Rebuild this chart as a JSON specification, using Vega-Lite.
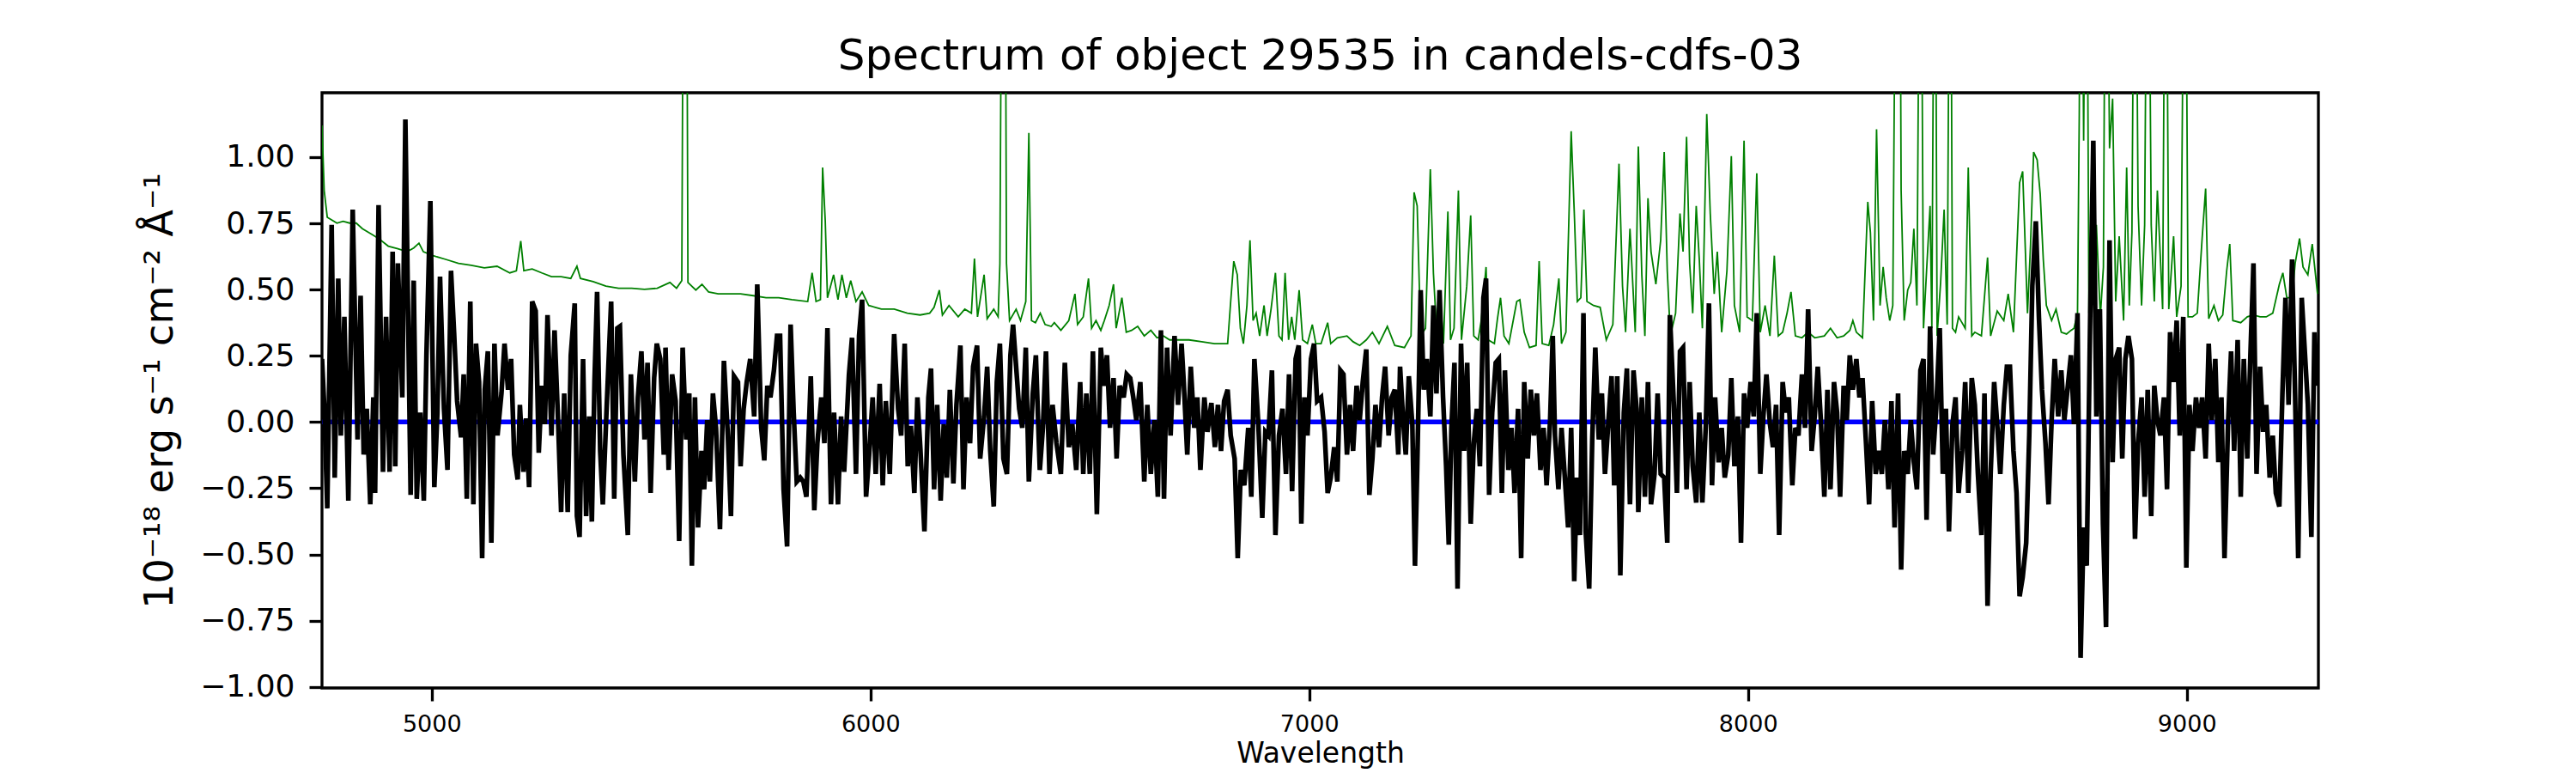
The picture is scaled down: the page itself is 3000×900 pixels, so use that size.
{
  "$schema": "https://vega.github.io/schema/vega-lite/v6.json",
  "width": 2325,
  "height": 693,
  "autosize": "none",
  "padding": {"left": 375, "top": 108, "right": 300, "bottom": 99},
  "background": "white",
  "title": {
    "text": "Spectrum of object 29535 in candels-cdfs-03",
    "font": "DejaVu Sans",
    "fontSize": 50,
    "fontWeight": "normal",
    "color": "black",
    "anchor": "middle",
    "baseline": "alphabetic",
    "offset": 25,
    "dy": 48
  },
  "datasets": {
    "spectrum": [
      {"wave":4750,"flux":0.238},{"wave":4755,"flux":0.065},{"wave":4762,"flux":-0.326},{"wave":4772,"flux":0.744},{"wave":4779,"flux":-0.21},{"wave":4787,"flux":0.542},{"wave":4793,"flux":-0.051},{"wave":4801,"flux":0.397},{"wave":4810,"flux":-0.297},{"wave":4820,"flux":0.802},
      {"wave":4831,"flux":-0.066},{"wave":4838,"flux":0.477},{"wave":4845,"flux":-0.123},{"wave":4852,"flux":0.05},{"wave":4860,"flux":-0.311},{"wave":4867,"flux":0.093},{"wave":4871,"flux":-0.268},{"wave":4879,"flux":0.819},{"wave":4889,"flux":-0.188},{"wave":4896,"flux":0.397},
      {"wave":4904,"flux":-0.188},{"wave":4911,"flux":0.643},{"wave":4917,"flux":-0.167},{"wave":4923,"flux":0.599},{"wave":4933,"flux":0.093},{"wave":4940,"flux":1.142},{"wave":4952,"flux":-0.275},{"wave":4959,"flux":0.534},{"wave":4966,"flux":-0.29},{"wave":4974,"flux":0.036},
      {"wave":4982,"flux":-0.297},{"wave":4988,"flux":0.252},{"wave":4997,"flux":0.834},{"wave":5006,"flux":-0.246},{"wave":5013,"flux":0.036},{"wave":5019,"flux":0.549},{"wave":5028,"flux":0.05},{"wave":5036,"flux":-0.181},{"wave":5044,"flux":0.571},{"wave":5051,"flux":0.339},
      {"wave":5058,"flux":0.079},{"wave":5067,"flux":-0.058},{"wave":5073,"flux":0.18},{"wave":5080,"flux":-0.29},{"wave":5088,"flux":0.455},{"wave":5095,"flux":-0.311},{"wave":5101,"flux":0.296},{"wave":5108,"flux":0.151},{"wave":5115,"flux":-0.514},{"wave":5121,"flux":0.122},
      {"wave":5128,"flux":0.267},{"wave":5136,"flux":-0.456},{"wave":5143,"flux":0.296},{"wave":5150,"flux":-0.051},{"wave":5159,"flux":0.108},{"wave":5166,"flux":0.296},{"wave":5174,"flux":0.122},{"wave":5181,"flux":0.238},{"wave":5188,"flux":-0.123},{"wave":5196,"flux":-0.217},
      {"wave":5201,"flux":0.065},{"wave":5209,"flux":-0.188},{"wave":5215,"flux":0.014},{"wave":5222,"flux":-0.246},{"wave":5229,"flux":0.455},{"wave":5237,"flux":0.419},{"wave":5244,"flux":-0.116},{"wave":5251,"flux":0.137},{"wave":5258,"flux":-0.008},{"wave":5264,"flux":0.404},
      {"wave":5273,"flux":-0.051},{"wave":5280,"flux":0.346},{"wave":5288,"flux":0.007},{"wave":5295,"flux":-0.34},{"wave":5302,"flux":0.108},{"wave":5310,"flux":-0.34},{"wave":5317,"flux":0.252},{"wave":5326,"flux":0.448},{"wave":5331,"flux":-0.355},{"wave":5337,"flux":-0.434},
      {"wave":5345,"flux":0.238},{"wave":5352,"flux":-0.355},{"wave":5359,"flux":0.021},{"wave":5365,"flux":-0.376},{"wave":5371,"flux":0.151},{"wave":5377,"flux":0.491},{"wave":5384,"flux":-0.109},{"wave":5390,"flux":-0.311},{"wave":5399,"flux":0.065},{"wave":5409,"flux":0.455},
      {"wave":5416,"flux":-0.29},{"wave":5423,"flux":0.354},{"wave":5429,"flux":0.361},{"wave":5437,"flux":-0.123},{"wave":5447,"flux":-0.427},{"wave":5454,"flux":0.18},{"wave":5463,"flux":-0.225},{"wave":5470,"flux":0.093},{"wave":5478,"flux":0.267},{"wave":5485,"flux":-0.066},
      {"wave":5492,"flux":0.224},{"wave":5499,"flux":-0.268},{"wave":5507,"flux":0.166},{"wave":5513,"flux":0.296},{"wave":5521,"flux":0.238},{"wave":5529,"flux":-0.123},{"wave":5533,"flux":0.281},{"wave":5540,"flux":-0.181},{"wave":5548,"flux":0.18},{"wave":5556,"flux":0.079},
      {"wave":5564,"flux":-0.449},{"wave":5572,"flux":0.281},{"wave":5580,"flux":-0.066},{"wave":5587,"flux":0.108},{"wave":5593,"flux":-0.543},{"wave":5600,"flux":0.093},{"wave":5607,"flux":-0.398},{"wave":5615,"flux":-0.109},{"wave":5621,"flux":-0.254},{"wave":5628,"flux":0.007},
      {"wave":5634,"flux":-0.225},{"wave":5641,"flux":0.108},{"wave":5648,"flux":-0.022},{"wave":5657,"flux":-0.405},{"wave":5666,"flux":0.231},{"wave":5675,"flux":-0.051},{"wave":5682,"flux":-0.355},{"wave":5689,"flux":0.173},{"wave":5698,"flux":0.151},{"wave":5704,"flux":-0.167},
      {"wave":5711,"flux":0.05},{"wave":5718,"flux":0.151},{"wave":5726,"flux":0.238},{"wave":5735,"flux":0.021},{"wave":5742,"flux":0.52},{"wave":5751,"flux":-0.022},{"wave":5758,"flux":-0.145},{"wave":5765,"flux":0.137},{"wave":5772,"flux":0.093},{"wave":5780,"flux":0.195},
      {"wave":5787,"flux":0.325},{"wave":5794,"flux":0.325},{"wave":5802,"flux":-0.254},{"wave":5810,"flux":-0.47},{"wave":5818,"flux":0.368},{"wave":5825,"flux":0.036},{"wave":5832,"flux":-0.225},{"wave":5840,"flux":-0.21},{"wave":5847,"flux":-0.225},{"wave":5854,"flux":-0.282},
      {"wave":5864,"flux":0.173},{"wave":5872,"flux":-0.333},{"wave":5879,"flux":-0.08},{"wave":5888,"flux":0.093},{"wave":5895,"flux":-0.08},{"wave":5902,"flux":0.354},{"wave":5910,"flux":-0.311},{"wave":5917,"flux":0.036},{"wave":5926,"flux":-0.311},{"wave":5933,"flux":0.021},
      {"wave":5940,"flux":-0.188},{"wave":5951,"flux":0.18},{"wave":5958,"flux":0.318},{"wave":5967,"flux":-0.196},{"wave":5974,"flux":0.325},{"wave":5981,"flux":0.462},{"wave":5990,"flux":-0.282},{"wave":5997,"flux":-0.123},{"wave":6005,"flux":0.093},{"wave":6012,"flux":-0.196},
      {"wave":6021,"flux":0.144},{"wave":6028,"flux":-0.239},{"wave":6035,"flux":0.079},{"wave":6044,"flux":-0.196},{"wave":6054,"flux":0.332},{"wave":6063,"flux":0.05},{"wave":6070,"flux":-0.051},{"wave":6078,"flux":0.296},{"wave":6085,"flux":-0.167},{"wave":6092,"flux":-0.015},
      {"wave":6100,"flux":-0.268},{"wave":6107,"flux":0.093},{"wave":6114,"flux":-0.109},{"wave":6123,"flux":-0.413},{"wave":6132,"flux":0.093},{"wave":6138,"flux":0.202},{"wave":6145,"flux":-0.254},{"wave":6152,"flux":0.065},{"wave":6160,"flux":-0.297},{"wave":6167,"flux":-0.008},
      {"wave":6174,"flux":-0.21},{"wave":6181,"flux":0.122},{"wave":6189,"flux":-0.232},{"wave":6196,"flux":0.065},{"wave":6205,"flux":0.289},{"wave":6212,"flux":-0.254},{"wave":6219,"flux":0.093},{"wave":6227,"flux":-0.08},{"wave":6234,"flux":0.209},{"wave":6243,"flux":0.289},
      {"wave":6250,"flux":-0.138},{"wave":6259,"flux":0.021},{"wave":6266,"flux":0.209},{"wave":6273,"flux":-0.109},{"wave":6281,"flux":-0.319},{"wave":6288,"flux":0.151},{"wave":6295,"flux":0.296},{"wave":6303,"flux":-0.138},{"wave":6311,"flux":-0.196},{"wave":6319,"flux":0.252},
      {"wave":6325,"flux":0.368},{"wave":6332,"flux":0.209},{"wave":6339,"flux":0.05},{"wave":6346,"flux":-0.022},{"wave":6354,"flux":0.281},{"wave":6361,"flux":-0.225},{"wave":6370,"flux":0.108},{"wave":6377,"flux":0.252},{"wave":6386,"flux":-0.181},{"wave":6393,"flux":-0.022},
      {"wave":6400,"flux":0.267},{"wave":6408,"flux":-0.196},{"wave":6415,"flux":0.065},{"wave":6424,"flux":-0.08},{"wave":6434,"flux":-0.196},{"wave":6443,"flux":0.224},{"wave":6452,"flux":-0.095},{"wave":6460,"flux":-0.008},{"wave":6469,"flux":-0.181},{"wave":6478,"flux":0.151},
      {"wave":6485,"flux":-0.196},{"wave":6492,"flux":0.108},{"wave":6500,"flux":-0.196},{"wave":6507,"flux":0.267},{"wave":6516,"flux":-0.348},{"wave":6525,"flux":0.281},{"wave":6532,"flux":0.137},{"wave":6539,"flux":0.252},{"wave":6546,"flux":-0.022},{"wave":6554,"flux":0.166},
      {"wave":6561,"flux":-0.138},{"wave":6568,"flux":0.137},{"wave":6577,"flux":0.093},{"wave":6584,"flux":0.18},{"wave":6592,"flux":0.166},{"wave":6599,"flux":0.093},{"wave":6606,"flux":0.007},{"wave":6615,"flux":0.151},{"wave":6624,"flux":-0.225},{"wave":6631,"flux":0.065},
      {"wave":6639,"flux":-0.196},{"wave":6647,"flux":0.007},{"wave":6655,"flux":-0.282},{"wave":6662,"flux":0.346},{"wave":6669,"flux":-0.29},{"wave":6676,"flux":0.281},{"wave":6684,"flux":-0.051},{"wave":6693,"flux":0.325},{"wave":6701,"flux":0.065},{"wave":6709,"flux":0.296},
      {"wave":6714,"flux":0.151},{"wave":6722,"flux":-0.123},{"wave":6730,"flux":0.209},{"wave":6738,"flux":-0.022},{"wave":6745,"flux":0.093},{"wave":6752,"flux":-0.181},{"wave":6761,"flux":0.093},{"wave":6768,"flux":-0.037},{"wave":6777,"flux":0.072},{"wave":6785,"flux":-0.095},
      {"wave":6792,"flux":0.065},{"wave":6799,"flux":-0.109},{"wave":6806,"flux":0.079},{"wave":6814,"flux":0.122},{"wave":6821,"flux":-0.051},{"wave":6830,"flux":-0.138},{"wave":6837,"flux":-0.514},{"wave":6844,"flux":-0.181},{"wave":6852,"flux":-0.239},{"wave":6861,"flux":-0.022},
      {"wave":6868,"flux":-0.282},{"wave":6875,"flux":0.238},{"wave":6884,"flux":-0.008},{"wave":6893,"flux":-0.362},{"wave":6900,"flux":-0.037},{"wave":6907,"flux":-0.051},{"wave":6915,"flux":0.195},{"wave":6923,"flux":-0.427},{"wave":6931,"flux":-0.051},{"wave":6939,"flux":0.05},
      {"wave":6947,"flux":-0.196},{"wave":6954,"flux":0.18},{"wave":6961,"flux":-0.261},{"wave":6969,"flux":0.238},{"wave":6976,"flux":0.289},{"wave":6982,"flux":-0.384},{"wave":6989,"flux":0.093},{"wave":6996,"flux":-0.051},{"wave":7004,"flux":0.238},{"wave":7011,"flux":0.296},
      {"wave":7018,"flux":0.079},{"wave":7027,"flux":0.093},{"wave":7035,"flux":-0.037},{"wave":7042,"flux":-0.268},{"wave":7049,"flux":-0.21},{"wave":7057,"flux":-0.095},{"wave":7064,"flux":-0.225},{"wave":7071,"flux":0.195},{"wave":7078,"flux":0.18},{"wave":7086,"flux":-0.123},
      {"wave":7093,"flux":0.065},{"wave":7100,"flux":-0.109},{"wave":7108,"flux":0.137},{"wave":7115,"flux":0.007},{"wave":7122,"flux":0.151},{"wave":7130,"flux":0.274},{"wave":7137,"flux":-0.275},{"wave":7144,"flux":-0.138},{"wave":7151,"flux":0.065},{"wave":7159,"flux":-0.095},
      {"wave":7166,"flux":0.093},{"wave":7173,"flux":0.209},{"wave":7181,"flux":-0.051},{"wave":7188,"flux":0.093},{"wave":7195,"flux":0.122},{"wave":7203,"flux":-0.123},{"wave":7207,"flux":0.209},{"wave":7214,"flux":0.007},{"wave":7220,"flux":-0.123},{"wave":7227,"flux":0.173},
      {"wave":7235,"flux":-0.008},{"wave":7241,"flux":-0.543},{"wave":7246,"flux":-0.181},{"wave":7254,"flux":0.498},{"wave":7261,"flux":0.122},{"wave":7268,"flux":0.238},{"wave":7276,"flux":0.021},{"wave":7283,"flux":0.44},{"wave":7290,"flux":0.108},{"wave":7297,"flux":0.498},
      {"wave":7305,"flux":0.093},{"wave":7312,"flux":-0.167},{"wave":7318,"flux":-0.463},{"wave":7324,"flux":-0.022},{"wave":7331,"flux":0.224},{"wave":7338,"flux":-0.629},{"wave":7346,"flux":0.296},{"wave":7353,"flux":-0.109},{"wave":7360,"flux":0.224},{"wave":7368,"flux":-0.384},
      {"wave":7375,"flux":-0.08},{"wave":7382,"flux":0.05},{"wave":7389,"flux":-0.167},{"wave":7397,"flux":0.469},{"wave":7403,"flux":0.542},{"wave":7410,"flux":-0.275},{"wave":7417,"flux":0.036},{"wave":7425,"flux":0.224},{"wave":7432,"flux":0.238},{"wave":7439,"flux":-0.268},
      {"wave":7446,"flux":0.195},{"wave":7454,"flux":-0.181},{"wave":7461,"flux":-0.022},{"wave":7468,"flux":-0.268},{"wave":7476,"flux":0.05},{"wave":7483,"flux":-0.514},{"wave":7490,"flux":0.151},{"wave":7498,"flux":-0.138},{"wave":7505,"flux":0.122},{"wave":7512,"flux":-0.051},
      {"wave":7519,"flux":0.108},{"wave":7527,"flux":-0.181},{"wave":7534,"flux":-0.022},{"wave":7541,"flux":-0.239},{"wave":7549,"flux":0.007},{"wave":7555,"flux":0.325},{"wave":7560,"flux":-0.051},{"wave":7568,"flux":-0.254},{"wave":7575,"flux":-0.022},{"wave":7582,"flux":-0.196},
      {"wave":7590,"flux":-0.398},{"wave":7597,"flux":-0.022},{"wave":7604,"flux":-0.601},{"wave":7610,"flux":-0.21},{"wave":7617,"flux":-0.427},{"wave":7625,"flux":0.411},{"wave":7630,"flux":-0.413},{"wave":7638,"flux":-0.629},{"wave":7645,"flux":-0.066},{"wave":7652,"flux":0.281},
      {"wave":7660,"flux":-0.066},{"wave":7667,"flux":0.108},{"wave":7674,"flux":-0.196},{"wave":7682,"flux":0.007},{"wave":7689,"flux":0.173},{"wave":7695,"flux":-0.239},{"wave":7702,"flux":0.173},{"wave":7709,"flux":-0.579},{"wave":7717,"flux":0.036},{"wave":7724,"flux":0.202},
      {"wave":7731,"flux":-0.311},{"wave":7739,"flux":0.195},{"wave":7746,"flux":0.05},{"wave":7750,"flux":-0.34},{"wave":7758,"flux":0.093},{"wave":7765,"flux":-0.282},{"wave":7772,"flux":0.151},{"wave":7779,"flux":-0.311},{"wave":7787,"flux":-0.196},{"wave":7794,"flux":0.108},
      {"wave":7801,"flux":-0.196},{"wave":7809,"flux":-0.21},{"wave":7816,"flux":-0.456},{"wave":7822,"flux":0.404},{"wave":7831,"flux":0.065},{"wave":7838,"flux":-0.268},{"wave":7845,"flux":0.267},{"wave":7852,"flux":0.281},{"wave":7860,"flux":-0.254},{"wave":7867,"flux":0.151},
      {"wave":7874,"flux":-0.167},{"wave":7882,"flux":-0.304},{"wave":7889,"flux":0.036},{"wave":7896,"flux":-0.304},{"wave":7904,"flux":-0.008},{"wave":7911,"flux":0.448},{"wave":7918,"flux":-0.239},{"wave":7925,"flux":0.093},{"wave":7933,"flux":-0.152},{"wave":7940,"flux":-0.022},
      {"wave":7947,"flux":-0.21},{"wave":7955,"flux":-0.123},{"wave":7962,"flux":0.166},{"wave":7969,"flux":-0.167},{"wave":7977,"flux":0.021},{"wave":7984,"flux":-0.456},{"wave":7991,"flux":0.108},{"wave":7998,"flux":-0.022},{"wave":8006,"flux":0.151},{"wave":8013,"flux":0.021},
      {"wave":8020,"flux":0.411},{"wave":8028,"flux":-0.196},{"wave":8035,"flux":0.021},{"wave":8042,"flux":0.18},{"wave":8050,"flux":-0.008},{"wave":8057,"flux":-0.095},{"wave":8064,"flux":0.065},{"wave":8071,"flux":-0.427},{"wave":8079,"flux":0.151},{"wave":8086,"flux":0.036},
      {"wave":8093,"flux":0.093},{"wave":8101,"flux":-0.239},{"wave":8108,"flux":-0.022},{"wave":8115,"flux":-0.051},{"wave":8123,"flux":0.18},{"wave":8130,"flux":-0.022},{"wave":8137,"flux":0.426},{"wave":8145,"flux":-0.109},{"wave":8152,"flux":0.021},{"wave":8159,"flux":0.209},
      {"wave":8166,"flux":0.007},{"wave":8174,"flux":-0.282},{"wave":8181,"flux":0.122},{"wave":8188,"flux":-0.254},{"wave":8196,"flux":0.151},{"wave":8203,"flux":0.036},{"wave":8210,"flux":-0.282},{"wave":8218,"flux":0.137},{"wave":8225,"flux":0.007},{"wave":8232,"flux":0.252},
      {"wave":8239,"flux":0.122},{"wave":8247,"flux":0.238},{"wave":8254,"flux":0.093},{"wave":8261,"flux":0.166},{"wave":8269,"flux":-0.08},{"wave":8276,"flux":-0.311},{"wave":8283,"flux":0.079},{"wave":8291,"flux":-0.196},{"wave":8298,"flux":-0.109},{"wave":8305,"flux":-0.196},
      {"wave":8312,"flux":0.007},{"wave":8320,"flux":-0.254},{"wave":8327,"flux":0.079},{"wave":8334,"flux":-0.398},{"wave":8342,"flux":0.108},{"wave":8349,"flux":-0.557},{"wave":8356,"flux":-0.109},{"wave":8364,"flux":-0.196},{"wave":8371,"flux":0.007},{"wave":8378,"flux":-0.152},
      {"wave":8385,"flux":-0.254},{"wave":8393,"flux":0.195},{"wave":8400,"flux":0.238},{"wave":8407,"flux":-0.369},{"wave":8415,"flux":0.361},{"wave":8422,"flux":-0.123},{"wave":8429,"flux":0.05},{"wave":8437,"flux":0.354},{"wave":8444,"flux":-0.196},{"wave":8451,"flux":0.05},
      {"wave":8458,"flux":-0.413},{"wave":8466,"flux":-0.008},{"wave":8473,"flux":0.093},{"wave":8480,"flux":-0.268},{"wave":8488,"flux":-0.109},{"wave":8495,"flux":0.151},{"wave":8502,"flux":-0.268},{"wave":8510,"flux":0.166},{"wave":8517,"flux":0.065},{"wave":8524,"flux":-0.196},
      {"wave":8532,"flux":-0.427},{"wave":8539,"flux":0.108},{"wave":8546,"flux":-0.694},{"wave":8553,"flux":-0.196},{"wave":8561,"flux":0.151},{"wave":8568,"flux":-0.008},{"wave":8575,"flux":-0.196},{"wave":8583,"flux":0.065},{"wave":8590,"flux":0.209},{"wave":8597,"flux":0.209},
      {"wave":8605,"flux":-0.109},{"wave":8612,"flux":-0.268},{"wave":8619,"flux":-0.658},{"wave":8626,"flux":-0.586},{"wave":8634,"flux":-0.456},{"wave":8641,"flux":-0.051},{"wave":8648,"flux":0.513},{"wave":8656,"flux":0.758},{"wave":8663,"flux":0.397},{"wave":8670,"flux":0.122},
      {"wave":8678,"flux":-0.08},{"wave":8685,"flux":-0.311},{"wave":8692,"flux":0.007},{"wave":8699,"flux":0.238},{"wave":8707,"flux":0.021},{"wave":8714,"flux":0.195},{"wave":8721,"flux":0.007},{"wave":8729,"flux":0.137},{"wave":8736,"flux":0.252},{"wave":8743,"flux":-0.008},
      {"wave":8751,"flux":0.411},{"wave":8758,"flux":-0.89},{"wave":8765,"flux":-0.398},{"wave":8772,"flux":-0.543},{"wave":8780,"flux":0.411},{"wave":8787,"flux":1.062},{"wave":8794,"flux":0.021},{"wave":8802,"flux":0.426},{"wave":8809,"flux":-0.384},{"wave":8816,"flux":-0.774},
      {"wave":8824,"flux":0.686},{"wave":8831,"flux":-0.152},{"wave":8838,"flux":0.238},{"wave":8846,"flux":0.281},{"wave":8853,"flux":-0.138},{"wave":8860,"flux":0.238},{"wave":8867,"flux":0.325},{"wave":8875,"flux":0.238},{"wave":8882,"flux":-0.441},{"wave":8889,"flux":-0.08},
      {"wave":8897,"flux":0.093},{"wave":8904,"flux":-0.282},{"wave":8911,"flux":0.122},{"wave":8919,"flux":-0.355},{"wave":8926,"flux":0.137},{"wave":8933,"flux":0.007},{"wave":8940,"flux":-0.051},{"wave":8948,"flux":0.093},{"wave":8955,"flux":-0.254},{"wave":8962,"flux":0.339},
      {"wave":8970,"flux":0.151},{"wave":8977,"flux":0.383},{"wave":8984,"flux":-0.051},{"wave":8992,"flux":0.397},{"wave":8999,"flux":-0.55},{"wave":9006,"flux":0.065},{"wave":9013,"flux":-0.109},{"wave":9021,"flux":0.093},{"wave":9028,"flux":-0.022},{"wave":9035,"flux":0.093},
      {"wave":9043,"flux":-0.138},{"wave":9050,"flux":0.296},{"wave":9057,"flux":0.007},{"wave":9065,"flux":0.238},{"wave":9072,"flux":-0.152},{"wave":9079,"flux":0.093},{"wave":9086,"flux":-0.514},{"wave":9094,"flux":-0.008},{"wave":9101,"flux":0.267},{"wave":9108,"flux":-0.109},
      {"wave":9116,"flux":0.31},{"wave":9123,"flux":-0.282},{"wave":9130,"flux":0.238},{"wave":9138,"flux":-0.138},{"wave":9145,"flux":0.252},{"wave":9152,"flux":0.599},{"wave":9159,"flux":-0.196},{"wave":9167,"flux":0.209},{"wave":9174,"flux":-0.037},{"wave":9181,"flux":0.065},
      {"wave":9189,"flux":-0.21},{"wave":9196,"flux":-0.051},{"wave":9203,"flux":-0.268},{"wave":9211,"flux":-0.319},{"wave":9218,"flux":0.108},{"wave":9225,"flux":0.469},{"wave":9232,"flux":0.065},{"wave":9240,"flux":0.614},{"wave":9247,"flux":0.093},{"wave":9254,"flux":-0.514},
      {"wave":9262,"flux":0.469},{"wave":9269,"flux":0.267},{"wave":9276,"flux":0.065},{"wave":9284,"flux":-0.434},{"wave":9291,"flux":0.339},{"wave":9298,"flux":0.137}
    ],
    "model": [
      {"wave":4750,"flux":0},{"wave":9300,"flux":0}
    ],
    "noise": [
      {"wave":4750,"flux":1.12},{"wave":4755,"flux":0.874},{"wave":4762,"flux":0.773},{"wave":4784,"flux":0.751},{"wave":4798,"flux":0.758},{"wave":4813,"flux":0.751},{"wave":4828,"flux":0.751},{"wave":4842,"flux":0.73},{"wave":4864,"flux":0.708},{"wave":4879,"flux":0.693},
      {"wave":4901,"flux":0.664},{"wave":4923,"flux":0.654},{"wave":4944,"flux":0.643},{"wave":4959,"flux":0.657},{"wave":4971,"flux":0.675},{"wave":4981,"flux":0.643},{"wave":5003,"flux":0.628},{"wave":5032,"flux":0.614},{"wave":5061,"flux":0.599},{"wave":5090,"flux":0.592},
      {"wave":5120,"flux":0.582},{"wave":5149,"flux":0.588},{"wave":5178,"flux":0.563},{"wave":5193,"flux":0.571},{"wave":5203,"flux":0.683},{"wave":5210,"flux":0.571},{"wave":5229,"flux":0.578},{"wave":5251,"flux":0.563},{"wave":5273,"flux":0.549},{"wave":5295,"flux":0.549},
      {"wave":5317,"flux":0.542},{"wave":5331,"flux":0.588},{"wave":5339,"flux":0.542},{"wave":5368,"flux":0.53},{"wave":5397,"flux":0.513},{"wave":5426,"flux":0.505},{"wave":5456,"flux":0.505},{"wave":5485,"flux":0.501},{"wave":5514,"flux":0.505},{"wave":5543,"flux":0.527},
      {"wave":5558,"flux":0.505},{"wave":5570,"flux":0.534},{"wave":5575,"flux":2.5},{"wave":5580,"flux":2.5},{"wave":5584,"flux":0.527},{"wave":5602,"flux":0.498},{"wave":5616,"flux":0.52},{"wave":5631,"flux":0.491},{"wave":5653,"flux":0.484},{"wave":5675,"flux":0.484},
      {"wave":5704,"flux":0.484},{"wave":5733,"flux":0.477},{"wave":5762,"flux":0.469},{"wave":5791,"flux":0.469},{"wave":5821,"flux":0.462},{"wave":5857,"flux":0.455},{"wave":5867,"flux":0.563},{"wave":5876,"flux":0.455},{"wave":5886,"flux":0.462},{"wave":5891,"flux":0.961},
      {"wave":5897,"flux":0.758},{"wave":5902,"flux":0.469},{"wave":5916,"flux":0.556},{"wave":5926,"flux":0.462},{"wave":5935,"flux":0.556},{"wave":5945,"flux":0.469},{"wave":5955,"flux":0.534},{"wave":5967,"flux":0.455},{"wave":5981,"flux":0.491},{"wave":5996,"flux":0.44},
      {"wave":6011,"flux":0.433},{"wave":6025,"flux":0.426},{"wave":6054,"flux":0.426},{"wave":6084,"flux":0.411},{"wave":6113,"flux":0.404},{"wave":6135,"flux":0.411},{"wave":6145,"flux":0.433},{"wave":6157,"flux":0.498},{"wave":6164,"flux":0.404},{"wave":6179,"flux":0.44},
      {"wave":6200,"flux":0.397},{"wave":6215,"flux":0.426},{"wave":6230,"flux":0.411},{"wave":6237,"flux":0.617},{"wave":6244,"flux":0.397},{"wave":6259,"flux":0.556},{"wave":6266,"flux":0.39},{"wave":6281,"flux":0.426},{"wave":6291,"flux":0.397},{"wave":6295,"flux":0.599},
      {"wave":6301,"flux":2.5},{"wave":6306,"flux":2.5},{"wave":6310,"flux":0.599},{"wave":6317,"flux":0.383},{"wave":6332,"flux":0.426},{"wave":6342,"flux":0.383},{"wave":6354,"flux":0.455},{"wave":6361,"flux":1.091},{"wave":6367,"flux":0.383},{"wave":6376,"flux":0.375},
      {"wave":6387,"flux":0.411},{"wave":6398,"flux":0.368},{"wave":6412,"flux":0.361},{"wave":6419,"flux":0.375},{"wave":6434,"flux":0.346},{"wave":6452,"flux":0.383},{"wave":6460,"flux":0.44},{"wave":6466,"flux":0.484},{"wave":6472,"flux":0.368},{"wave":6485,"flux":0.397},
      {"wave":6497,"flux":0.542},{"wave":6504,"flux":0.354},{"wave":6514,"flux":0.383},{"wave":6525,"flux":0.346},{"wave":6533,"flux":0.383},{"wave":6544,"flux":0.44},{"wave":6554,"flux":0.52},{"wave":6560,"flux":0.354},{"wave":6573,"flux":0.469},{"wave":6583,"flux":0.339},
      {"wave":6595,"flux":0.346},{"wave":6609,"flux":0.361},{"wave":6624,"flux":0.325},{"wave":6639,"flux":0.346},{"wave":6653,"flux":0.318},{"wave":6668,"flux":0.325},{"wave":6682,"flux":0.31},{"wave":6704,"flux":0.31},{"wave":6726,"flux":0.31},{"wave":6755,"flux":0.303},
      {"wave":6784,"flux":0.296},{"wave":6814,"flux":0.296},{"wave":6821,"flux":0.455},{"wave":6828,"flux":0.607},{"wave":6836,"flux":0.556},{"wave":6843,"flux":0.354},{"wave":6850,"flux":0.296},{"wave":6858,"flux":0.44},{"wave":6865,"flux":0.686},{"wave":6872,"flux":0.383},
      {"wave":6879,"flux":0.411},{"wave":6887,"flux":0.325},{"wave":6897,"flux":0.44},{"wave":6904,"flux":0.325},{"wave":6913,"flux":0.426},{"wave":6923,"flux":0.563},{"wave":6931,"flux":0.325},{"wave":6938,"flux":0.31},{"wave":6945,"flux":0.563},{"wave":6953,"flux":0.31},
      {"wave":6960,"flux":0.397},{"wave":6967,"flux":0.31},{"wave":6977,"flux":0.498},{"wave":6985,"flux":0.31},{"wave":6996,"flux":0.296},{"wave":7007,"flux":0.368},{"wave":7015,"flux":0.296},{"wave":7027,"flux":0.296},{"wave":7042,"flux":0.375},{"wave":7049,"flux":0.296},
      {"wave":7064,"flux":0.318},{"wave":7086,"flux":0.325},{"wave":7100,"flux":0.303},{"wave":7115,"flux":0.289},{"wave":7130,"flux":0.31},{"wave":7144,"flux":0.339},{"wave":7159,"flux":0.296},{"wave":7178,"flux":0.361},{"wave":7195,"flux":0.289},{"wave":7217,"flux":0.281},
      {"wave":7232,"flux":0.325},{"wave":7239,"flux":0.867},{"wave":7246,"flux":0.816},{"wave":7254,"flux":0.325},{"wave":7265,"flux":0.354},{"wave":7276,"flux":0.954},{"wave":7283,"flux":0.563},{"wave":7290,"flux":0.354},{"wave":7297,"flux":0.498},{"wave":7306,"flux":0.296},
      {"wave":7316,"flux":0.795},{"wave":7322,"flux":0.31},{"wave":7330,"flux":0.354},{"wave":7340,"flux":0.874},{"wave":7347,"flux":0.31},{"wave":7359,"flux":0.513},{"wave":7368,"flux":0.78},{"wave":7375,"flux":0.325},{"wave":7385,"flux":0.31},{"wave":7392,"flux":0.383},
      {"wave":7403,"flux":0.585},{"wave":7408,"flux":0.31},{"wave":7422,"flux":0.296},{"wave":7429,"flux":0.39},{"wave":7436,"flux":0.469},{"wave":7444,"flux":0.325},{"wave":7455,"flux":0.296},{"wave":7473,"flux":0.455},{"wave":7480,"flux":0.462},{"wave":7490,"flux":0.339},
      {"wave":7502,"flux":0.281},{"wave":7517,"flux":0.289},{"wave":7524,"flux":0.607},{"wave":7531,"flux":0.296},{"wave":7546,"flux":0.289},{"wave":7557,"flux":0.368},{"wave":7569,"flux":0.542},{"wave":7575,"flux":0.296},{"wave":7585,"flux":0.339},{"wave":7597,"flux":1.098},
      {"wave":7604,"flux":0.795},{"wave":7611,"flux":0.455},{"wave":7619,"flux":0.469},{"wave":7626,"flux":0.802},{"wave":7633,"flux":0.455},{"wave":7648,"flux":0.44},{"wave":7663,"flux":0.433},{"wave":7677,"flux":0.31},{"wave":7692,"flux":0.368},{"wave":7706,"flux":0.975},
      {"wave":7714,"flux":0.513},{"wave":7721,"flux":0.339},{"wave":7731,"flux":0.73},{"wave":7743,"flux":0.339},{"wave":7750,"flux":1.04},{"wave":7758,"flux":0.556},{"wave":7765,"flux":0.325},{"wave":7772,"flux":0.845},{"wave":7779,"flux":0.643},{"wave":7790,"flux":0.52},
      {"wave":7801,"flux":0.686},{"wave":7809,"flux":1.019},{"wave":7816,"flux":0.571},{"wave":7823,"flux":0.325},{"wave":7835,"flux":0.411},{"wave":7845,"flux":0.787},{"wave":7852,"flux":0.643},{"wave":7860,"flux":1.077},{"wave":7867,"flux":0.599},{"wave":7874,"flux":0.411},
      {"wave":7882,"flux":0.816},{"wave":7889,"flux":0.614},{"wave":7896,"flux":0.354},{"wave":7906,"flux":1.163},{"wave":7914,"flux":0.787},{"wave":7923,"flux":0.484},{"wave":7930,"flux":0.643},{"wave":7940,"flux":0.339},{"wave":7952,"flux":0.571},{"wave":7962,"flux":1.004},
      {"wave":7969,"flux":0.44},{"wave":7981,"flux":0.339},{"wave":7991,"flux":1.062},{"wave":7998,"flux":0.397},{"wave":8010,"flux":0.383},{"wave":8020,"flux":0.939},{"wave":8028,"flux":0.339},{"wave":8039,"flux":0.44},{"wave":8050,"flux":0.325},{"wave":8060,"flux":0.628},
      {"wave":8069,"flux":0.325},{"wave":8079,"flux":0.339},{"wave":8089,"flux":0.411},{"wave":8098,"flux":0.491},{"wave":8108,"flux":0.325},{"wave":8123,"flux":0.318},{"wave":8137,"flux":0.339},{"wave":8152,"flux":0.318},{"wave":8174,"flux":0.325},{"wave":8188,"flux":0.354},
      {"wave":8203,"flux":0.318},{"wave":8218,"flux":0.325},{"wave":8232,"flux":0.346},{"wave":8239,"flux":0.383},{"wave":8247,"flux":0.339},{"wave":8261,"flux":0.318},{"wave":8273,"flux":0.831},{"wave":8279,"flux":0.715},{"wave":8286,"flux":0.383},{"wave":8293,"flux":1.105},
      {"wave":8301,"flux":0.44},{"wave":8308,"flux":0.585},{"wave":8315,"flux":0.469},{"wave":8323,"flux":0.383},{"wave":8330,"flux":0.44},{"wave":8339,"flux":2.5},{"wave":8345,"flux":2.5},{"wave":8349,"flux":0.874},{"wave":8356,"flux":0.383},{"wave":8364,"flux":0.498},
      {"wave":8371,"flux":0.527},{"wave":8378,"flux":0.73},{"wave":8385,"flux":0.44},{"wave":8393,"flux":2.5},{"wave":8400,"flux":0.354},{"wave":8407,"flux":0.571},{"wave":8415,"flux":0.816},{"wave":8419,"flux":0.354},{"wave":8426,"flux":2.5},{"wave":8431,"flux":0.325},
      {"wave":8439,"flux":0.527},{"wave":8447,"flux":0.802},{"wave":8454,"flux":0.368},{"wave":8461,"flux":2.5},{"wave":8466,"flux":0.354},{"wave":8473,"flux":0.339},{"wave":8480,"flux":0.397},{"wave":8495,"flux":0.354},{"wave":8502,"flux":0.961},{"wave":8510,"flux":0.325},
      {"wave":8517,"flux":0.339},{"wave":8532,"flux":0.325},{"wave":8546,"flux":0.621},{"wave":8553,"flux":0.325},{"wave":8568,"flux":0.419},{"wave":8583,"flux":0.383},{"wave":8593,"flux":0.484},{"wave":8605,"flux":0.339},{"wave":8619,"flux":0.903},{"wave":8626,"flux":0.946},
      {"wave":8637,"flux":0.411},{"wave":8644,"flux":0.672},{"wave":8651,"flux":1.019},{"wave":8659,"flux":0.99},{"wave":8666,"flux":0.86},{"wave":8673,"flux":0.614},{"wave":8680,"flux":0.44},{"wave":8692,"flux":0.383},{"wave":8702,"flux":0.426},{"wave":8714,"flux":0.339},
      {"wave":8726,"flux":0.332},{"wave":8736,"flux":0.346},{"wave":8743,"flux":0.354},{"wave":8751,"flux":0.411},{"wave":8755,"flux":1.163},{"wave":8759,"flux":2.5},{"wave":8765,"flux":1.062},{"wave":8771,"flux":2.5},{"wave":8777,"flux":0.411},{"wave":8784,"flux":0.527},
      {"wave":8794,"flux":0.744},{"wave":8803,"flux":0.397},{"wave":8810,"flux":0.585},{"wave":8816,"flux":2.5},{"wave":8824,"flux":1.033},{"wave":8831,"flux":1.221},{"wave":8838,"flux":0.455},{"wave":8846,"flux":0.701},{"wave":8856,"flux":0.383},{"wave":8863,"flux":0.961},
      {"wave":8869,"flux":0.44},{"wave":8875,"flux":0.715},{"wave":8882,"flux":2.5},{"wave":8889,"flux":0.816},{"wave":8897,"flux":0.44},{"wave":8904,"flux":0.744},{"wave":8911,"flux":2.5},{"wave":8919,"flux":0.744},{"wave":8926,"flux":0.455},{"wave":8933,"flux":0.874},
      {"wave":8945,"flux":0.426},{"wave":8952,"flux":2.5},{"wave":8959,"flux":0.426},{"wave":8970,"flux":0.701},{"wave":8977,"flux":0.397},{"wave":8987,"flux":0.513},{"wave":8996,"flux":2.5},{"wave":9003,"flux":0.397},{"wave":9013,"flux":0.397},{"wave":9024,"flux":0.411},
      {"wave":9035,"flux":0.693},{"wave":9043,"flux":0.881},{"wave":9050,"flux":0.39},{"wave":9062,"flux":0.44},{"wave":9072,"flux":0.383},{"wave":9082,"flux":0.404},{"wave":9091,"flux":0.571},{"wave":9098,"flux":0.672},{"wave":9105,"flux":0.383},{"wave":9123,"flux":0.375},
      {"wave":9138,"flux":0.397},{"wave":9152,"flux":0.404},{"wave":9167,"flux":0.397},{"wave":9181,"flux":0.397},{"wave":9196,"flux":0.411},{"wave":9211,"flux":0.52},{"wave":9219,"flux":0.563},{"wave":9228,"flux":0.469},{"wave":9240,"flux":0.469},{"wave":9247,"flux":0.599},
      {"wave":9257,"flux":0.693},{"wave":9265,"flux":0.585},{"wave":9276,"flux":0.556},{"wave":9286,"flux":0.672},{"wave":9298,"flux":0.484}
    ]
  },
  "encoding": {
    "x": {
      "field": "wave",
      "type": "quantitative",
      "scale": {"domain": [4750, 9300], "nice": false, "zero": false},
      "axis": {
        "title": "Wavelength",
        "values": [5000, 6000, 7000, 8000, 9000],
        "format": "d",
        "labelFontSize": 27,
        "labelPadding": 14,
        "titleFontSize": 33,
        "titleX": 1162.5,
        "titleY": 86,
        "titleBaseline": "alphabetic"
      }
    },
    "y": {
      "field": "flux",
      "type": "quantitative",
      "scale": {"domain": [-1.004, 1.243], "nice": false, "zero": false},
      "axis": {
        "title": "10⁻¹⁸ erg s⁻¹ cm⁻² Å⁻¹",
        "values": [-1, -0.75, -0.5, -0.25, 0, 0.25, 0.5, 0.75, 1],
        "format": ".2f",
        "labelFontSize": 36,
        "labelPadding": 17,
        "titleFontSize": 46,
        "titleAngle": 270,
        "titleX": -175,
        "titleY": 346.5,
        "titleAlign": "center",
        "titleBaseline": "alphabetic"
      }
    }
  },
  "layer": [
    {
      "data": {"name": "model"},
      "mark": {"type": "line", "color": "#0000ff", "strokeWidth": 5.5, "clip": true}
    },
    {
      "data": {"name": "noise"},
      "mark": {"type": "line", "color": "#008000", "strokeWidth": 1.8, "clip": true}
    },
    {
      "data": {"name": "spectrum"},
      "mark": {"type": "line", "color": "black", "strokeWidth": 5.5, "clip": true}
    }
  ],
  "config": {
    "font": "DejaVu Sans",
    "view": {"stroke": "black", "strokeWidth": 3.3},
    "axis": {
      "grid": false,
      "domain": false,
      "tickSize": 15,
      "tickWidth": 3.3,
      "tickColor": "black",
      "labelColor": "black",
      "titleColor": "black",
      "titleFontWeight": "normal",
      "labelFont": "DejaVu Sans",
      "titleFont": "DejaVu Sans"
    }
  }
}
